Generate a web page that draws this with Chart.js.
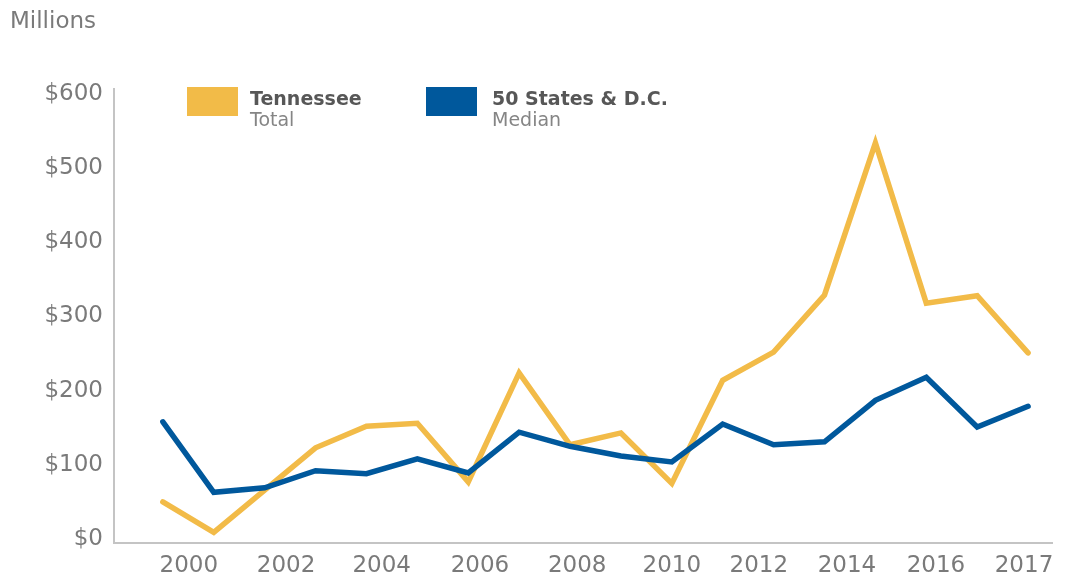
<!DOCTYPE html>
<html>
<head>
<meta charset="utf-8">
<script src="https://cdn.jsdelivr.net/npm/chart.js@4/dist/chart.umd.min.js"></script>
<style>
  html, body { margin: 0; padding: 0; background: #fff; }
  #wrap { position: relative; width: 1066px; height: 577px; font-family: "DejaVu Sans", sans-serif; }
  #c { position: absolute; left: 0; top: 0; }
  .unit { position: absolute; left: 10px; top: 7px; font-size: 23px; color: #7a7a7a; }
  .key { position: absolute; top: 87px; width: 51px; height: 29px; }
  .lab { position: absolute; top: 88px; line-height: 21px; font-size: 19px; }
  .lab b { color: #575757; }
  .lab span { color: #858585; }
</style>
</head>
<body>
<div id="wrap">
  <canvas id="c" width="1066" height="577"></canvas>
  <div class="unit">Millions</div>
  <div class="key" style="left:187px;background:#F2BB48"></div>
  <div class="lab" style="left:250px"><b>Tennessee</b><br><span>Total</span></div>
  <div class="key" style="left:426px;background:#00589C"></div>
  <div class="lab" style="left:492px"><b>50 States &amp; D.C.</b><br><span>Median</span></div>
</div>
<script>
// yearly values, $ millions
var years = [2000, 2001, 2002, 2003, 2004, 2005, 2006, 2007, 2008,
             2009, 2010, 2011, 2012, 2013, 2014, 2015, 2016, 2017];
var tennessee = [50, 9, 66, 123, 152, 156, 77, 224, 127,
                 143, 75, 214, 252, 329, 534, 318, 328, 251];
var median = [158, 63, 69, 92, 88, 108, 89, 144, 125,
              112, 104, 155, 127, 131, 187, 218, 151, 179];
var xTickLabels = ['2000', '2002', '2004', '2006', '2008', '2010', '2012', '2014', '2016', '2017'];
var yTicks = [0, 100, 200, 300, 400, 500, 600];

// where the year labels sit along the axis (they do not line up with the points)
var labelSlots = [2000.51, 2002.42, 2004.30, 2006.23, 2008.14, 2010.00, 2011.71, 2013.44, 2015.19, 2016.92];

var gray = '#7a7a7a';
var axisLine = '#c4c4c4';

function pts(vals) {
  return vals.map(function (v, i) { return { x: years[i], y: v }; });
}

new Chart(document.getElementById('c'), {
  type: 'line',
  data: {
    datasets: [
      { label: '50 States & D.C. Median', data: pts(median), borderColor: '#00589C' },
      { label: 'Tennessee Total', data: pts(tennessee), borderColor: '#F2BB48' }
    ]
  },
  options: {
    responsive: false,
    animation: false,
    layout: { padding: { top: 89, right: 14, left: 0, bottom: 0 } },
    elements: {
      line: { borderWidth: 5.5, tension: 0, borderCapStyle: 'round', fill: false },
      point: { radius: 0, hoverRadius: 0 }
    },
    plugins: { legend: { display: false }, tooltip: { enabled: false } },
    scales: {
      x: {
        type: 'linear',
        display: false,
        min: 1999.04,
        max: 2017.47
      },
      xl: {
        type: 'linear',
        position: 'bottom',
        min: 1999.04,
        max: 2017.47,
        grid: { display: false, drawTicks: false },
        border: { display: true, color: axisLine, width: 2 },
        afterBuildTicks: function (axis) {
          axis.ticks = labelSlots.map(function (v) { return { value: v }; });
        },
        afterFit: function (axis) { axis.height = 34; },
        ticks: {
          autoSkip: false,
          maxRotation: 0,
          padding: 9,
          color: gray,
          font: { family: 'DejaVu Sans', size: 23 },
          callback: function (v, i) { return xTickLabels[i]; }
        }
      },
      y: {
        min: -5.4,
        max: 606.7,
        grid: { display: false, drawTicks: false },
        border: { display: true, color: axisLine, width: 2 },
        afterBuildTicks: function (axis) {
          axis.ticks = yTicks.map(function (v) { return { value: v }; });
        },
        afterFit: function (axis) { axis.width = 114; },
        ticks: {
          padding: 11,
          color: gray,
          font: { family: 'DejaVu Sans', size: 23 },
          callback: function (v) { return '$' + v; }
        }
      }
    }
  }
});
</script>
</body>
</html>
